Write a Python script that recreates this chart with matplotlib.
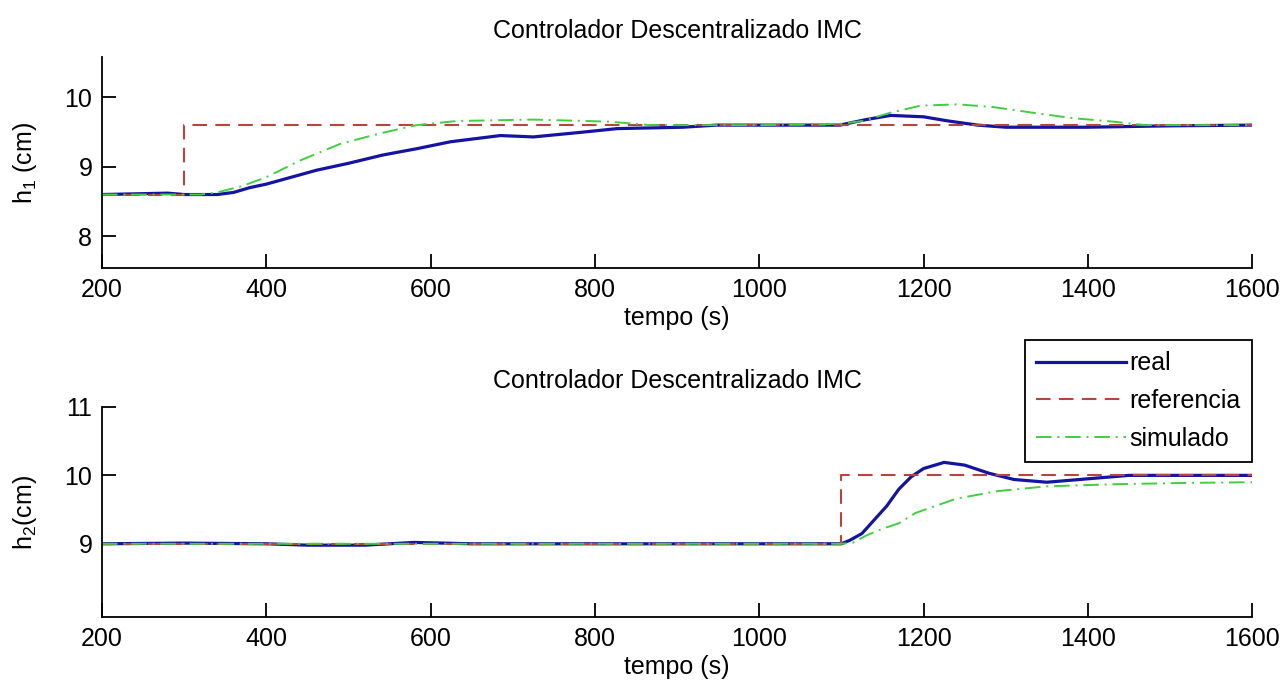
import matplotlib
matplotlib.use("Agg")
import matplotlib.pyplot as plt

plt.rcParams['font.family'] = ['Liberation Sans', 'DejaVu Sans']
plt.rcParams['mathtext.fontset'] = 'custom'
plt.rcParams['mathtext.rm'] = 'Liberation Sans'
plt.rcParams['mathtext.it'] = 'Liberation Sans'

# ---- h1 (upper plot) ----
t1_real = [200, 280, 300, 340, 360, 380, 400, 461, 500, 542, 583, 624, 685, 725,
           786, 827, 907, 948, 1000, 1098, 1130, 1160, 1200, 1230, 1266, 1300,
           1400, 1500, 1600]
h1_real = [8.6, 8.62, 8.6, 8.6, 8.63, 8.7, 8.75, 8.95, 9.05, 9.17, 9.26, 9.36, 9.45, 9.43,
           9.5, 9.55, 9.57, 9.6, 9.6, 9.6, 9.68, 9.74, 9.72, 9.66, 9.6, 9.57,
           9.57, 9.59, 9.6]
t1_ref = [200, 300, 300, 1600]
h1_ref = [8.6, 8.6, 9.6, 9.6]
t1_sim = [200, 320, 340, 370, 400, 441, 490, 538, 583, 632, 725, 818, 867, 1000,
          1100, 1126, 1160, 1196, 1241, 1285, 1338, 1382, 1431, 1470, 1600]
h1_sim = [8.6, 8.6, 8.63, 8.72, 8.85, 9.09, 9.33, 9.48, 9.6, 9.66, 9.68, 9.65, 9.6, 9.6,
          9.62, 9.66, 9.78, 9.88, 9.9, 9.86, 9.77, 9.7, 9.65, 9.6, 9.6]

# ---- h2 (lower plot) ----
t2_real = [200, 300, 400, 450, 520, 580, 650, 800, 950, 1100, 1110, 1125, 1140, 1155,
           1170, 1185, 1200, 1225, 1250, 1280, 1310, 1350, 1400, 1450, 1600]
h2_real = [9.0, 9.01, 9.0, 8.98, 8.98, 9.02, 9.0, 9.0, 9.0, 9.0, 9.05, 9.15, 9.35, 9.55,
           9.8, 9.98, 10.1, 10.19, 10.15, 10.03, 9.94, 9.9, 9.95, 10.0, 10.0]
t2_ref = [200, 1100, 1100, 1600]
h2_ref = [9.0, 9.0, 10.0, 10.0]
t2_sim = [200, 1100, 1115, 1130, 1150, 1170, 1190, 1240, 1290, 1350, 1430, 1520, 1600]
h2_sim = [9.0, 9.0, 9.02, 9.12, 9.22, 9.3, 9.45, 9.66, 9.77, 9.84, 9.87, 9.89, 9.9]

c_real = '#1414a0'
c_ref = '#b8453c'
c_sim = '#3fcf3f'
fs = 18

fig = plt.figure(figsize=(12.88, 7.0), dpi=100)
ax1 = fig.add_axes([0.0792, 0.617, 0.893, 0.3014])
ax2 = fig.add_axes([0.0792, 0.1186, 0.893, 0.300])


def draw(ax, tr, hr, tf, hf, ts, hs):
    l1, = ax.plot(tr, hr, color=c_real, lw=2.3, label='real')
    l2, = ax.plot(tf, hf, color=c_ref, lw=1.5, dashes=(7, 4), label='referencia')
    l3, = ax.plot(ts, hs, color=c_sim, lw=1.4, dashes=(8, 3, 1, 3), label='simulado')
    ax.set_xlim(200, 1600)
    ax.set_xticks(range(200, 1601, 200))
    for s in ['top', 'right']:
        ax.spines[s].set_visible(False)
    for s in ['left', 'bottom']:
        ax.spines[s].set_linewidth(1.3)
    ax.tick_params(direction='in', length=10, width=1.3, labelsize=fs, pad=7)
    ax.set_xlabel('tempo (s)', fontsize=fs, labelpad=3)
    ax.set_title('Controlador Descentralizado IMC', fontsize=fs, pad=14)
    return l1, l2, l3


draw(ax1, t1_real, h1_real, t1_ref, h1_ref, t1_sim, h1_sim)
ax1.set_ylim(7.54, 10.58)
ax1.set_yticks([8, 9, 10])
ax1.set_ylabel('h$_1$ (cm)', fontsize=fs, labelpad=18)

handles = draw(ax2, t2_real, h2_real, t2_ref, h2_ref, t2_sim, h2_sim)
ax2.set_ylim(7.93, 11)
ax2.set_yticks([9, 10, 11])
ax2.set_ylabel('h$_2$(cm)', fontsize=fs, labelpad=18)

leg = fig.legend(handles, ['real', 'referencia', 'simulado'], loc='upper right',
                 bbox_to_anchor=(1252 / 1288, 1 - 340 / 700), borderaxespad=0,
                 fontsize=fs, fancybox=False, handlelength=3.6, handletextpad=0.15,
                 labelspacing=0.55, borderpad=0.45, framealpha=1)
leg.get_frame().set_edgecolor('black')
leg.get_frame().set_linewidth(1.3)

fig.savefig('out.png', dpi=100)
